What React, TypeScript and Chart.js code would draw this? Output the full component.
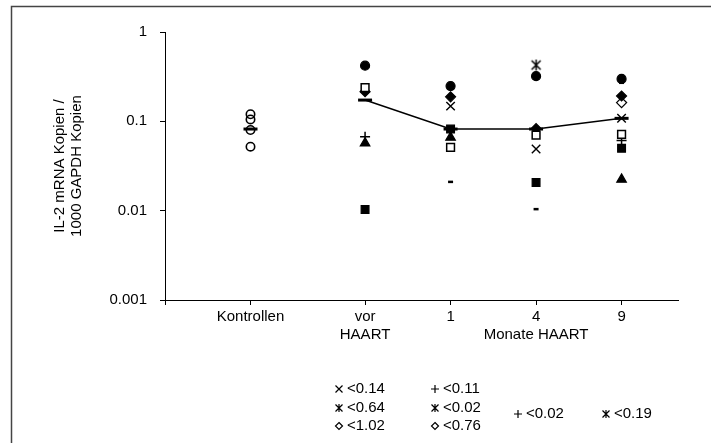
import React, { useEffect, useRef } from "react";
import { Chart, registerables } from "chart.js";

Chart.register(...registerables);

const FONT = '"Liberation Sans", Arial, sans-serif';

// Group positions along the linear x axis (0 = axis origin)
const groupX = [1, 2.34, 3.34, 4.34, 5.34];
const groupLabels: (string | string[])[] = ["Kontrollen", ["vor", "HAART"], "1", "4", "9"];
const yTickValues = [0.001, 0.01, 0.1, 1];
const yTickLabels = ["0.001", "0.01", "0.1", "1"];
const yTitle = ["IL-2 mRNA Kopien /", "1000 GAPDH Kopien"];
const xSubTitle = "Monate HAART";

// Controls
const controlValues = [0.12, 0.105, 0.08, 0.052];
const controlMedian = 0.082;

// Patients: values at vor HAART, 1, 4, 9 Monate (null = no measurement)
const filledCircle = [0.42, 0.248, 0.32, 0.298];
const openSquare = [0.238, 0.051, 0.07, 0.0715];
const filledDiamond = [0.215, 0.188, 0.083, 0.192];
const plusMark = [0.067, null, null, 0.061];
const filledTriangle = [0.057, 0.066, null, 0.0224];
const filledSquare = [0.0103, 0.082, 0.0207, 0.05];
const crossMark = [null, 0.148, 0.049, 0.108];
const asteriskMark = [null, null, 0.427, null];
const dashMark = [null, 0.021, 0.0104, 0.27];
const openDiamond = [null, null, null, 0.162];
const patientMedian = [0.173, 0.082, 0.082, 0.108];

// Legend of values below detection
const legendSymbols = ["cross", "asterisk", "diamond", "plus", "asterisk", "diamond", "plus", "asterisk"];
const legendLabels = ["<0.14", "<0.64", "<1.02", "<0.11", "<0.02", "<0.76", "<0.02", "<0.19"];

function patientPoints(values: (number | null)[]) {
  const pts: { x: number; y: number }[] = [];
  values.forEach((v, i) => {
    if (v != null) pts.push({ x: groupX[i + 1], y: v });
  });
  return pts;
}

function makeAsterisk(): HTMLCanvasElement {
  const c = document.createElement("canvas");
  c.width = 13;
  c.height = 13;
  const g = c.getContext("2d")!;
  g.strokeStyle = "#000";
  g.lineWidth = 1.5;
  g.beginPath();
  g.moveTo(2, 2);
  g.lineTo(11, 11);
  g.moveTo(11, 2);
  g.lineTo(2, 11);
  g.moveTo(6.5, 1);
  g.lineTo(6.5, 12);
  g.stroke();
  return c;
}

function drawSymbol(ctx: CanvasRenderingContext2D, kind: string, x: number, y: number) {
  ctx.save();
  ctx.strokeStyle = "#000";
  ctx.lineWidth = 1.2;
  ctx.beginPath();
  if (kind === "cross") {
    ctx.moveTo(x - 3.5, y - 3.5);
    ctx.lineTo(x + 3.5, y + 3.5);
    ctx.moveTo(x + 3.5, y - 3.5);
    ctx.lineTo(x - 3.5, y + 3.5);
  } else if (kind === "asterisk") {
    ctx.moveTo(x - 3.5, y - 3.5);
    ctx.lineTo(x + 3.5, y + 3.5);
    ctx.moveTo(x + 3.5, y - 3.5);
    ctx.lineTo(x - 3.5, y + 3.5);
    ctx.moveTo(x, y - 4);
    ctx.lineTo(x, y + 4);
  } else if (kind === "diamond") {
    ctx.moveTo(x, y - 3.5);
    ctx.lineTo(x + 3.5, y);
    ctx.lineTo(x, y + 3.5);
    ctx.lineTo(x - 3.5, y);
    ctx.closePath();
  } else if (kind === "plus") {
    ctx.moveTo(x - 4, y);
    ctx.lineTo(x + 4, y);
    ctx.moveTo(x, y - 4);
    ctx.lineTo(x, y + 4);
  }
  ctx.stroke();
  ctx.restore();
}

const decorPlugin = {
  id: "decor",
  afterDraw(chart: any) {
    const ctx: CanvasRenderingContext2D = chart.ctx;
    const area = chart.chartArea;
    const xs = chart.scales.x;

    // outer frame (top and left edges)
    ctx.save();
    ctx.strokeStyle = "#444";
    ctx.lineWidth = 1.5;
    ctx.beginPath();
    ctx.moveTo(11.5, chart.height);
    ctx.lineTo(11.5, 6.5);
    ctx.lineTo(chart.width, 6.5);
    ctx.stroke();
    ctx.restore();

    ctx.save();
    ctx.fillStyle = "#000";
    ctx.font = `15px ${FONT}`;

    // rotated y axis title
    const yc = (area.top + area.bottom) / 2;
    const titleX = [60, 77];
    yTitle.forEach((line, i) => {
      ctx.save();
      ctx.translate(titleX[i], yc);
      ctx.rotate(-Math.PI / 2);
      ctx.textAlign = "center";
      ctx.textBaseline = "middle";
      ctx.fillText(line, 0, 0);
      ctx.restore();
    });

    // sub title under the month ticks
    ctx.textAlign = "center";
    ctx.textBaseline = "middle";
    ctx.fillText(xSubTitle, xs.getPixelForValue(groupX[3]), 335);

    // legend grid: two columns of three rows, then two single entries
    const slots = [
      [339, 389], [339, 408], [339, 426],
      [435, 389], [435, 408], [435, 426],
      [518, 414], [606, 414],
    ];
    ctx.textAlign = "left";
    legendLabels.forEach((label, i) => {
      const [sx, sy] = slots[i];
      drawSymbol(ctx, legendSymbols[i], sx, sy);
      ctx.fillText(label, sx + 8, sy);
    });
    ctx.restore();
  },
};

export default function App() {
  const canvasRef = useRef<HTMLCanvasElement | null>(null);

  useEffect(() => {
    const canvas = canvasRef.current;
    if (!canvas) return;
    const asterisk = makeAsterisk();

    const marker = (style: any, radius: number, fill: string, bw = 1.2) => ({
      showLine: false,
      pointStyle: style,
      pointRadius: radius,
      pointBackgroundColor: fill,
      pointBorderColor: "#000",
      pointBorderWidth: bw,
    });

    const chart = new Chart(canvas, {
      type: "scatter",
      data: {
        datasets: [
          { label: "Kontrollen", data: controlValues.map((v) => ({ x: groupX[0], y: v })), ...marker("circle", 4.2, "rgba(255,255,255,0)", 1.6) },
          { label: "filledCircle", data: patientPoints(filledCircle), ...marker("circle", 4.5, "#000") },
          { label: "openSquare", data: patientPoints(openSquare), ...marker("rect", 5.5, "#fff", 1.5) },
          { label: "filledDiamond", data: patientPoints(filledDiamond), ...marker("rectRot", 5, "#000") },
          { label: "plus", data: patientPoints(plusMark), ...marker("cross", 5, "#000", 1.5) },
          { label: "triangle", data: patientPoints(filledTriangle), ...marker("triangle", 5.5, "#000") },
          { label: "filledSquare", data: patientPoints(filledSquare), ...marker("rect", 5.5, "#000") },
          { label: "cross", data: patientPoints(crossMark), ...marker("crossRot", 6, "#000", 1.4) },
          { label: "asterisk", data: patientPoints(asteriskMark), ...marker(asterisk, 6, "#000") },
          { label: "dash", data: patientPoints(dashMark), ...marker("line", 2.5, "#000", 2.5) },
          { label: "openDiamond", data: patientPoints(openDiamond), ...marker("rectRot", 5, "#fff", 1.3) },
          { label: "Median Kontrollen", data: [{ x: groupX[0], y: controlMedian }], ...marker("line", 7, "#000", 3) },
          {
            label: "Median HAART",
            data: patientPoints(patientMedian),
            showLine: true,
            borderColor: "#000",
            borderWidth: 1.5,
            pointStyle: "line",
            pointRadius: 7,
            pointBorderColor: "#000",
            pointBorderWidth: 3,
          },
        ] as any,
      },
      options: {
        responsive: false,
        animation: false,
        devicePixelRatio: 1,
        events: [],
        layout: { padding: { top: 32, right: 33, left: 0, bottom: 0 } },
        plugins: { legend: { display: false }, tooltip: { enabled: false } },
        scales: {
          x: {
            type: "linear",
            position: "bottom",
            min: 0,
            max: 6,
            afterFit: (s: any) => {
              s.height = 143;
            },
            afterBuildTicks: (s: any) => {
              s.ticks = [0, ...groupX].map((v) => ({ value: v }));
            },
            ticks: {
              autoSkip: false,
              maxRotation: 0,
              padding: 2,
              color: "#000",
              font: { family: FONT, size: 15, lineHeight: 1.25 },
              callback: (v: any) => {
                const i = groupX.findIndex((g) => Math.abs(g - Number(v)) < 1e-6);
                return i < 0 ? "" : groupLabels[i];
              },
            },
            grid: { drawOnChartArea: false, drawTicks: true, tickLength: 5, color: "#000" },
            border: { color: "#000", width: 1 },
          },
          y: {
            type: "logarithmic",
            min: 0.001,
            max: 1,
            afterFit: (s: any) => {
              s.width = 165;
            },
            afterBuildTicks: (s: any) => {
              s.ticks = yTickValues.map((v) => ({ value: v }));
            },
            ticks: {
              padding: 13,
              color: "#000",
              font: { family: FONT, size: 15 },
              callback: (v: any) => {
                const i = yTickValues.findIndex((t) => Math.abs(t - Number(v)) < t * 1e-6);
                return i < 0 ? "" : yTickLabels[i];
              },
            },
            grid: { drawOnChartArea: false, drawTicks: true, tickLength: 5, color: "#000" },
            border: { color: "#000", width: 1 },
          },
        },
      } as any,
      plugins: [decorPlugin],
    });

    return () => chart.destroy();
  }, []);

  return (
    <div style={{ position: "absolute", left: 0, top: 0, width: 711, height: 443, background: "#fff" }}>
      <canvas ref={canvasRef} width={711} height={443} style={{ display: "block" }} />
    </div>
  );
}
